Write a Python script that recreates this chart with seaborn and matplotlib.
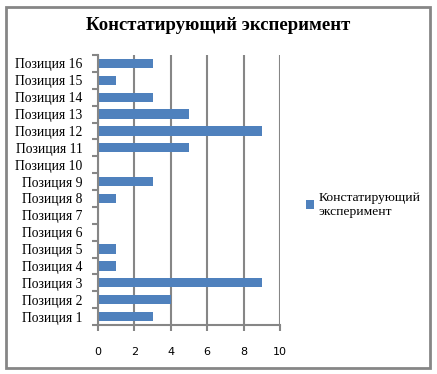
import matplotlib
matplotlib.use("Agg")
from matplotlib import pyplot as plt
from matplotlib.patches import Rectangle, Patch
import seaborn as sns
import pandas as pd
import numpy as np

title = "Констатирующий эксперимент"
series_name = "Констатирующий\nэксперимент"
positions = ["Позиция %d" % i for i in range(1, 17)]
values = [3, 4, 9, 1, 1, 0, 0, 1, 3, 0, 5, 9, 5, 3, 1, 3]
x_ticks = [0, 2, 4, 6, 8, 10]

df = pd.DataFrame({"pos": positions, "val": values})
order = positions[::-1]

sns.set_style("white")
plt.rcParams['font.family'] = ['Liberation Serif', 'DejaVu Serif']
plt.rcParams['text.color'] = "black"
plt.rcParams['xtick.color'] = "black"
plt.rcParams['ytick.color'] = "black"

grey = "#868686"
bar_color = "#4F81BD"

fig = plt.figure(figsize=(4.37, 3.74), dpi=100)
ax = fig.add_axes([98 / 437, 1 - 325 / 374, 182 / 437, 270 / 374])

sns.barplot(data=df, y="pos", x="val", order=order, orient="h",
            color=bar_color, width=0.55, saturation=1, linewidth=0, ax=ax)

ax.set_xlim(0, 10)
ax.set_ylim(len(order) - 0.5, -0.5)
ax.set_xticks(x_ticks)
ax.set_xticklabels([str(t) for t in x_ticks], fontfamily="DejaVu Sans", fontsize=8)
ax.set_xlabel("")
ax.set_ylabel("")
ax.tick_params(axis="y", which="major", left=False, length=0, labelsize=9.8,
               pad=11, labelcolor="black")
ax.set_yticks(np.arange(-0.5, len(order), 1), minor=True)
ax.tick_params(axis="y", which="minor", left=True, length=4, width=1.5,
               color=grey, direction="out")
ax.tick_params(axis="x", bottom=True, length=4, width=1.5, color=grey,
               direction="out", pad=12, labelcolor="black")

ax.grid(axis="x", color=grey, linewidth=1.5)
ax.set_axisbelow(True)
for side in ["top", "right"]:
    ax.spines[side].set_visible(False)
for side in ["left", "bottom"]:
    ax.spines[side].set_color(grey)
    ax.spines[side].set_linewidth(1.5)

fig.text(218 / 437, 1 - 26 / 374, title, ha="center", va="center",
         fontsize=13.5, fontweight="bold", color="black")

handle = Patch(facecolor=bar_color, edgecolor="none")
fig.legend([handle], [series_name], loc="center left",
           bbox_to_anchor=(301 / 437, 1 - 205 / 374), frameon=False,
           fontsize=9.7, handlelength=0.6, handleheight=0.6, handletextpad=0.3,
           borderaxespad=0, labelcolor="black")

fig.patches.append(Rectangle((6 / 437, 6 / 374), 424 / 437, 361 / 374,
                             transform=fig.transFigure, fill=False,
                             edgecolor=grey, linewidth=2))

fig.savefig("out.png", dpi=100)
